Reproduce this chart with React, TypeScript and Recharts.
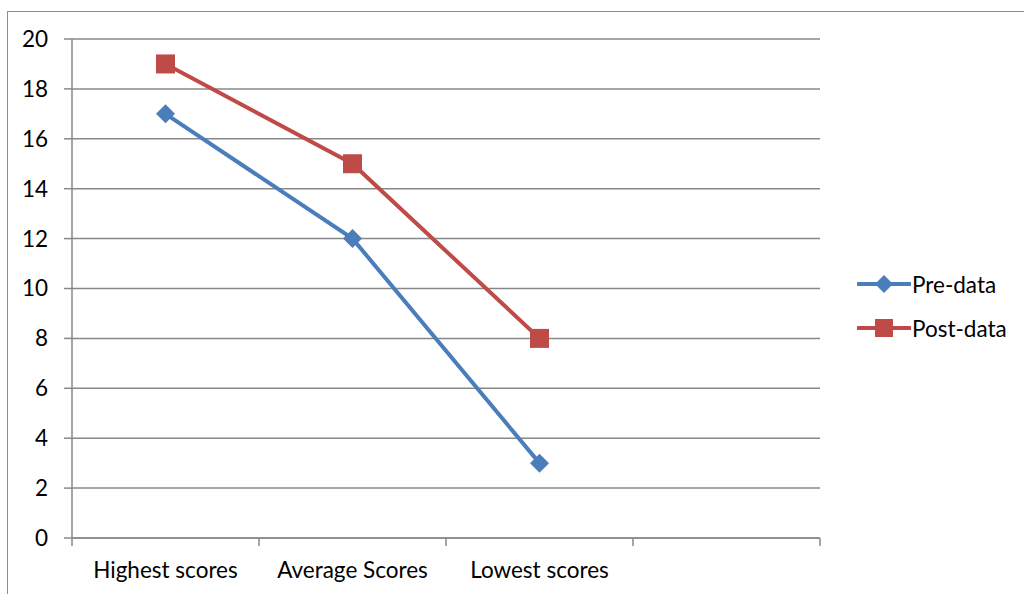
import { CartesianGrid, Line, LineChart, XAxis, YAxis } from "recharts";

const categories = ["Highest scores", "Average Scores", "Lowest scores", ""];
const preData = [17, 12, 3, null];
const postData = [19, 15, 8, null];
const yTicks = [0, 2, 4, 6, 8, 10, 12, 14, 16, 18, 20];

const data = categories.map((name, i) => ({
  name,
  pre: preData[i],
  post: postData[i],
}));

const BLUE = "#4a7ebb";
const RED = "#be4b48";
const GRID = "#888888";
const FONT = "Lato, 'Open Sans', sans-serif";
const FS = 22.5;
const BAND = 187;

const Diamond = ({ cx, cy }: any) => {
  if (cx == null || cy == null) return null;
  const r = 9.5;
  return (
    <polygon
      points={`${cx},${cy - r} ${cx + r},${cy} ${cx},${cy + r} ${cx - r},${cy}`}
      fill={BLUE}
    />
  );
};

const Square = ({ cx, cy }: any) => {
  if (cx == null || cy == null) return null;
  return <rect x={cx - 9.5} y={cy - 9.5} width={19} height={19} fill={RED} />;
};

const XTick = ({ x, y, payload, index }: any) => {
  const left = x - BAND / 2;
  return (
    <g>
      <line x1={left} y1={y - 8} x2={left} y2={y} stroke={GRID} strokeWidth={1.5} />
      {index === categories.length - 1 && (
        <line
          x1={x + BAND / 2}
          y1={y - 8}
          x2={x + BAND / 2}
          y2={y}
          stroke={GRID}
          strokeWidth={1.5}
        />
      )}
      <text
        x={x}
        y={y + 32}
        textAnchor="middle"
        fontFamily={FONT}
        fontSize={FS}
        fill="#000"
      >
        {payload.value}
      </text>
    </g>
  );
};

export default function App() {
  return (
    <div
      style={{
        position: "absolute",
        left: 0,
        top: 0,
        width: 1024,
        height: 594,
        overflow: "hidden",
        background: "#fff",
      }}
    >
      <div
        style={{
          position: "absolute",
          left: 7,
          top: 11,
          width: 1100,
          height: 700,
          border: "1px solid #8c8c8c",
        }}
      />
      <div style={{ position: "absolute", left: 0, top: 0 }}>
        <LineChart
          width={1024}
          height={594}
          data={data}
          margin={{ top: 39, right: 204, bottom: 26, left: 12 }}
        >
          <CartesianGrid vertical={false} stroke={GRID} strokeWidth={1.5} />
          <XAxis
            dataKey="name"
            scale="band"
            axisLine={{ stroke: GRID, strokeWidth: 1.5 }}
            tickLine={false}
            height={30}
            interval={0}
            tick={<XTick />}
          />
          <YAxis
            domain={[0, 20]}
            ticks={yTicks}
            width={60}
            axisLine={{ stroke: GRID, strokeWidth: 1.5 }}
            tickLine={{ stroke: GRID, strokeWidth: 1.5 }}
            tickSize={8}
            tickMargin={16}
            tick={{ fontFamily: FONT, fontSize: FS, fill: "#000" }}
          />
          <Line
            dataKey="pre"
            stroke={BLUE}
            strokeWidth={4}
            dot={<Diamond />}
            activeDot={false}
            isAnimationActive={false}
          />
          <Line
            dataKey="post"
            stroke={RED}
            strokeWidth={4}
            dot={<Square />}
            activeDot={false}
            isAnimationActive={false}
          />
        </LineChart>
      </div>
      {[
        { label: "Pre-data", color: BLUE, shape: "diamond", y: 284 },
        { label: "Post-data", color: RED, shape: "square", y: 328 },
      ].map((item) => (
        <div
          key={item.label}
          style={{
            position: "absolute",
            left: 857,
            top: item.y - 14,
            height: 28,
            display: "flex",
            alignItems: "center",
            fontFamily: FONT,
            fontSize: FS,
          }}
        >
          <svg width={54} height={28}>
            <line x1={1} y1={14} x2={53} y2={14} stroke={item.color} strokeWidth={4} strokeLinecap="round" />
            {item.shape === "diamond" ? (
              <polygon points="27,5 36,14 27,23 18,14" fill={item.color} />
            ) : (
              <rect x={18} y={5} width={18} height={18} fill={item.color} />
            )}
          </svg>
          <span style={{ marginLeft: 1 }}>{item.label}</span>
        </div>
      ))}
    </div>
  );
}
